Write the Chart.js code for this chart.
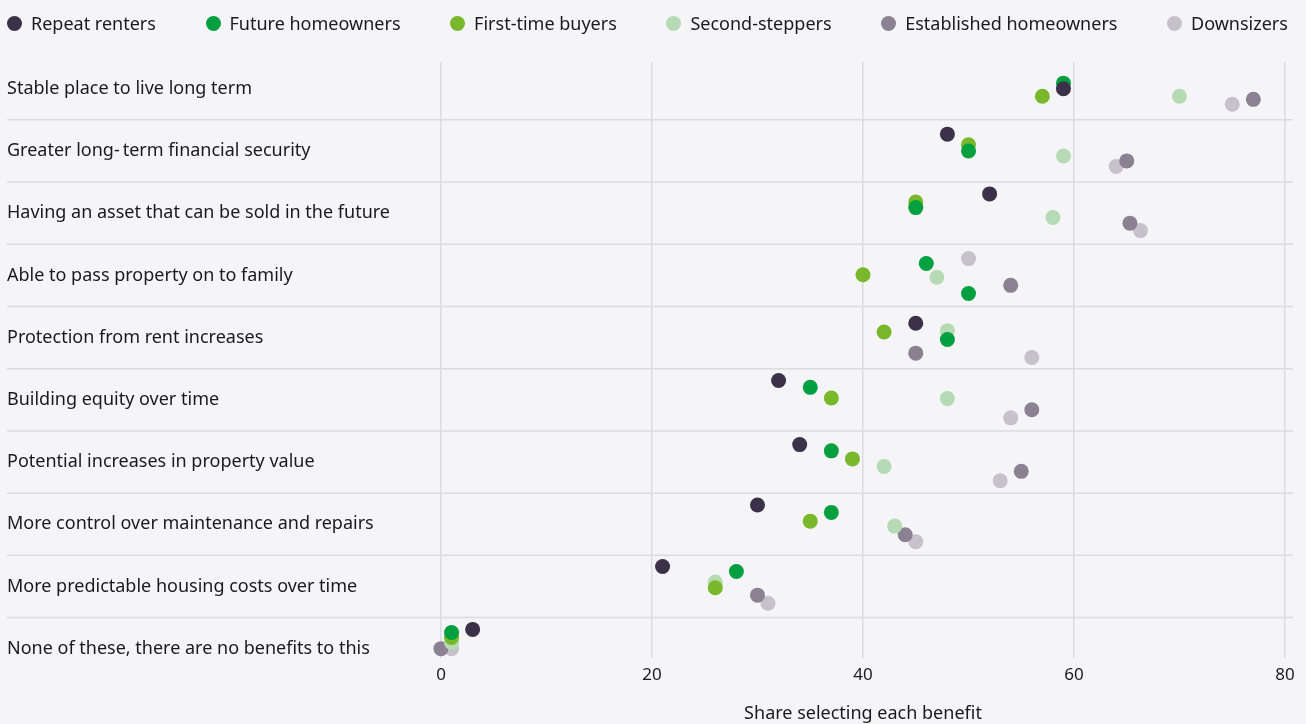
<!DOCTYPE html>
<html><head><meta charset="utf-8">
<script src="https://cdn.jsdelivr.net/npm/chart.js@4.4.1/dist/chart.umd.min.js"></script>
<style>
html,body{margin:0;padding:0;background:#f5f5f8;}
#wrap{position:relative;width:1306px;height:724px;background:#f5f5f8;}
#legend{position:absolute;left:7px;top:12px;width:1281px;height:22px;display:flex;justify-content:space-between;align-items:center;font-family:"Noto Sans",sans-serif;font-size:18px;color:#1a1a1a;z-index:2}
.item{display:flex;align-items:center;white-space:nowrap}
.dot{width:15px;height:15px;border-radius:50%;margin-right:9px;flex:none}
canvas{position:absolute;left:0;top:0}
</style></head>
<body><div id="wrap"><canvas id="c" width="1306" height="724"></canvas><div id="legend"></div></div>
<script>
// ---- data ----
const categories = [
  "Stable place to live long term",
  "Greater long-\u2009term financial security",
  "Having an asset that can be sold in the future",
  "Able to pass property on to family",
  "Protection from rent increases",
  "Building equity over time",
  "Potential increases in property value",
  "More control over maintenance and repairs",
  "More predictable housing costs over time",
  "None of these, there are no benefits to this"
];
const seriesNames = ["Repeat renters","Future homeowners","First-time buyers","Second-steppers","Established homeowners","Downsizers"];
const repeatRenters        = [59, 48, 52,   50, 45, 32, 34, 30, 21, 3];
const futureHomeowners     = [59, 50, 45,   46, 48, 35, 37, 37, 28, 1];
const firstTimeBuyers      = [57, 50, 45,   40, 42, 37, 39, 35, 26, 1];
const secondSteppers       = [70, 59, 58,   47, 48, 48, 42, 43, 26, 1];
const establishedHomeowners= [77, 65, 65.3, 54, 45, 56, 55, 44, 30, 0];
const downsizers           = [75, 64, 66.3, 50, 56, 54, 53, 45, 31, 1];
// vertical jitter of each dot within its row (fraction of a row)
const jitterRepeat   = [0, -0.27, -0.31, 0.29, -0.23, -0.31, -0.28, -0.31, -0.32, -0.31];
const jitterFuture   = [-0.09, 0, -0.09, -0.19, 0.03, -0.20, -0.18, -0.19, -0.24, -0.26];
const jitterFirst    = [0.12, -0.10, -0.18, -0.01, -0.09, -0.03, -0.05, -0.05, 0.02, -0.18];
const jitterSecond   = [0.12, 0.08, 0.07, 0.03, -0.11, -0.02, 0.07, 0.03, -0.07, -0.10];
const jitterEstab    = [0.17, 0.16, 0.16, 0.16, 0.25, 0.16, 0.15, 0.17, 0.14, 0];
const jitterDown     = [0.25, 0.25, 0.28, -0.27, 0.32, 0.29, 0.30, 0.28, 0.27, 0];
const xTicks = [0, 20, 40, 60, 80];
const xTitle = "Share selecting each benefit";

// ---- styles ----
const colors = ["#3b3148","#00a040","#78b82a","#b6dbb4","#8c8192","#c6c1ca"];
const colorOverrides = [{3:"#00a040"}, {}, {}, {}, {}, {}]; // as drawn in the reference
const FONT = "'Noto Sans', sans-serif";
const TEXT = "#1a1a1a";
const GRID = "#dcdce0";

const values = [repeatRenters, futureHomeowners, firstTimeBuyers, secondSteppers, establishedHomeowners, downsizers];
const jitters = [jitterRepeat, jitterFuture, jitterFirst, jitterSecond, jitterEstab, jitterDown];

// legend (HTML)
const lg = document.getElementById('legend');
seriesNames.forEach((n,i)=>{
  const it = document.createElement('div'); it.className='item';
  const d = document.createElement('span'); d.className='dot'; d.style.background=colors[i];
  const t = document.createElement('span'); t.textContent=n;
  it.appendChild(d); it.appendChild(t); lg.appendChild(it);
});

const datasets = seriesNames.map((n,si)=>({
  label: n,
  data: values[si].map((v,i)=>({x:v, y:i + jitters[si][i]})),
  pointBackgroundColor: values[si].map((v,i)=> colorOverrides[si][i] || colors[si]),
  backgroundColor: colors[si],
  pointBorderWidth: 0,
  pointRadius: 7.5,
  pointHoverRadius: 7.5,
  clip: false
}));

const rowLines = {
  id:'rowLines',
  beforeDatasetsDraw(chart){
    const y = chart.scales.y, ctx = chart.ctx;
    ctx.save();
    ctx.strokeStyle = GRID; ctx.lineWidth = 1.5;
    for (let i=0;i<categories.length-1;i++){
      const py = y.getPixelForValue(i+0.5);
      ctx.beginPath(); ctx.moveTo(7, py); ctx.lineTo(chart.chartArea.right+8, py); ctx.stroke();
    }
    ctx.restore();
  }
};

new Chart(document.getElementById('c'), {
  type: 'scatter',
  data: { datasets },
  plugins: [rowLines],
  options: {
    responsive: false,
    devicePixelRatio: 1,
    animation: false,
    layout: { padding: { left: 7, right: 21, top: 62, bottom: 0 } },
    plugins: { legend: { display: false }, tooltip: { enabled: false } },
    scales: {
      x: {
        type: 'linear', min: 0, max: 80,
        afterBuildTicks: s => { s.ticks = xTicks.map(v=>({value:v})); },
        afterFit: s => { s.height = 66; },
        ticks: { font: { family: FONT, size: 17 }, color: TEXT, padding: 7 },
        grid: { color: GRID, lineWidth: 1.5, drawTicks: false },
        border: { display: false },
        title: { display: true, text: xTitle, font: { family: FONT, size: 18 }, color: TEXT, padding: { top: 0, bottom: -1 } }
      },
      y: {
        type: 'linear', reverse: true, min: -0.43, max: 9.15,
        afterBuildTicks: s => { s.ticks = categories.map((c,i)=>({value:i})); },
        afterFit: s => { s.width = 434; },
        ticks: { autoSkip: false, crossAlign: 'far', font: { family: FONT, size: 18 }, color: TEXT,
                 callback: v => categories[v] },
        grid: { display: false },
        border: { display: false }
      }
    }
  }
});
</script>
</body></html>
